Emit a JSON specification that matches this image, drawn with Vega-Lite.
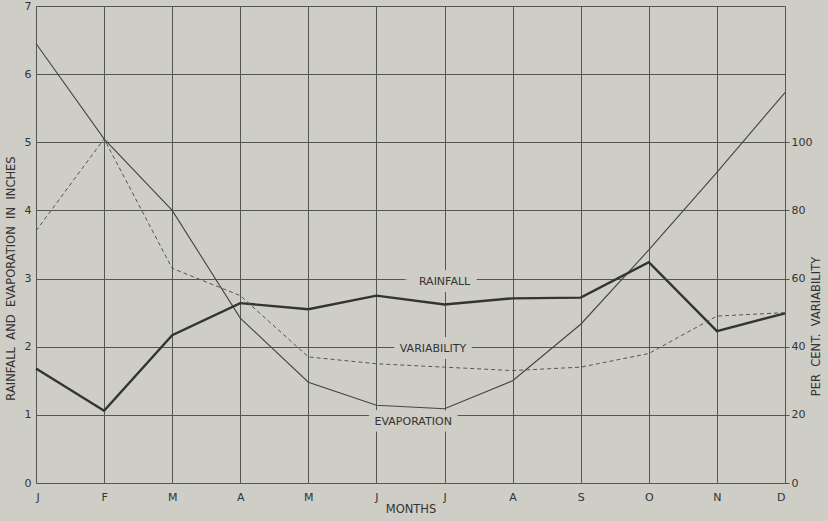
{
  "$schema": "https://vega.github.io/schema/vega-lite/v6.json",
  "width": 749,
  "height": 477,
  "autosize": {"type": "none"},
  "padding": {"left": 36, "top": 6, "right": 43, "bottom": 38},
  "background": "#cecdc6",
  "config": {
    "view": {"stroke": null},
    "font": "DejaVu Sans",
    "axis": {"labelFont": "DejaVu Sans", "titleFont": "DejaVu Sans", "labelColor": "#333", "titleColor": "#333", "titleFontWeight": "normal", "labelFontSize": 11, "titleFontSize": 11.5, "gridColor": "#555", "gridOpacity": 1, "gridWidth": 1, "domainColor": "#555", "tickColor": "#555"}
  },
  "datasets": {
    "series": [
      {"m": 0, "rain": 1.68, "evap": 6.45, "var": 74},
      {"m": 1, "rain": 1.06, "evap": 5.05, "var": 101},
      {"m": 2, "rain": 2.17, "evap": 4.0, "var": 63},
      {"m": 3, "rain": 2.64, "evap": 2.42, "var": 55},
      {"m": 4, "rain": 2.55, "evap": 1.48, "var": 37},
      {"m": 5, "rain": 2.75, "evap": 1.14, "var": 35},
      {"m": 6, "rain": 2.62, "evap": 1.09, "var": 34},
      {"m": 7, "rain": 2.71, "evap": 1.5, "var": 33},
      {"m": 8, "rain": 2.72, "evap": 2.33, "var": 34},
      {"m": 9, "rain": 3.24, "evap": 3.42, "var": 38},
      {"m": 10, "rain": 2.23, "evap": 4.56, "var": 49},
      {"m": 11, "rain": 2.49, "evap": 5.73, "var": 50}
    ],
    "labels": [
      {"m": 6.0, "v": 2.95, "name": "RAINFALL"},
      {"m": 5.83, "v": 1.96, "name": "VARIABILITY"},
      {"m": 5.54, "v": 0.9, "name": "EVAPORATION"}
    ]
  },
  "layer": [
    {
      "layer": [
        {
          "data": {"name": "labels"},
          "mark": {"type": "text", "fontSize": 11, "stroke": "#cecdc6", "strokeWidth": 13, "color": "#cecdc6", "baseline": "middle", "align": "center"},
          "encoding": {
            "x": {"field": "m", "type": "quantitative", "scale": {"domain": [0, 11], "nice": false},
                  "axis": {"values": [0,1,2,3,4,5,6,7,8,9,10,11], "labelExpr": "['J','F','M','A','M','J','J','A','S','O','N','D'][datum.value]", "title": "MONTHS", "ticks": false, "labelPadding": 8, "titlePadding": 1, "grid": true, "labelFontSize": 11}},
            "y": {"field": "v", "type": "quantitative", "scale": {"domain": [0, 7], "nice": false},
                  "axis": {"values": [0,1,2,3,4,5,6,7], "format": "d", "title": "RAINFALL\u00a0 AND\u00a0 EVAPORATION\u00a0 IN\u00a0 INCHES", "ticks": false, "labelPadding": 5, "grid": true, "titleY": 272, "titlePadding": 8}},
            "text": {"field": "name"}
          }
        },
        {
          "data": {"name": "series"},
          "mark": {"type": "line", "color": "#444", "strokeWidth": 1.1},
          "encoding": {
            "x": {"field": "m", "type": "quantitative"},
            "y": {"field": "evap", "type": "quantitative"}
          }
        },
        {
          "data": {"name": "series"},
          "mark": {"type": "line", "color": "#333", "strokeWidth": 2.4},
          "encoding": {
            "x": {"field": "m", "type": "quantitative"},
            "y": {"field": "rain", "type": "quantitative"}
          }
        },
        {
          "data": {"name": "labels"},
          "mark": {"type": "text", "fontSize": 11, "color": "#333", "baseline": "middle", "align": "center"},
          "encoding": {
            "x": {"field": "m", "type": "quantitative"},
            "y": {"field": "v", "type": "quantitative"},
            "text": {"field": "name"}
          }
        }
      ]
    },
    {
      "data": {"name": "series"},
      "mark": {"type": "line", "color": "#555", "strokeWidth": 1, "strokeDash": [4, 3]},
      "encoding": {
        "x": {"field": "m", "type": "quantitative"},
        "y": {"field": "var", "type": "quantitative", "scale": {"domain": [0, 140], "nice": false},
              "axis": {"orient": "right", "values": [0,20,40,60,80,100], "title": "PER\u00a0 CENT.\u00a0 VARIABILITY", "titleAngle": 270, "grid": false, "domain": false, "tickSize": 4, "labelPadding": 2, "titleY": 320, "titlePadding": 10}}
      }
    }
  ],
  "resolve": {"scale": {"y": "independent"}}
}
